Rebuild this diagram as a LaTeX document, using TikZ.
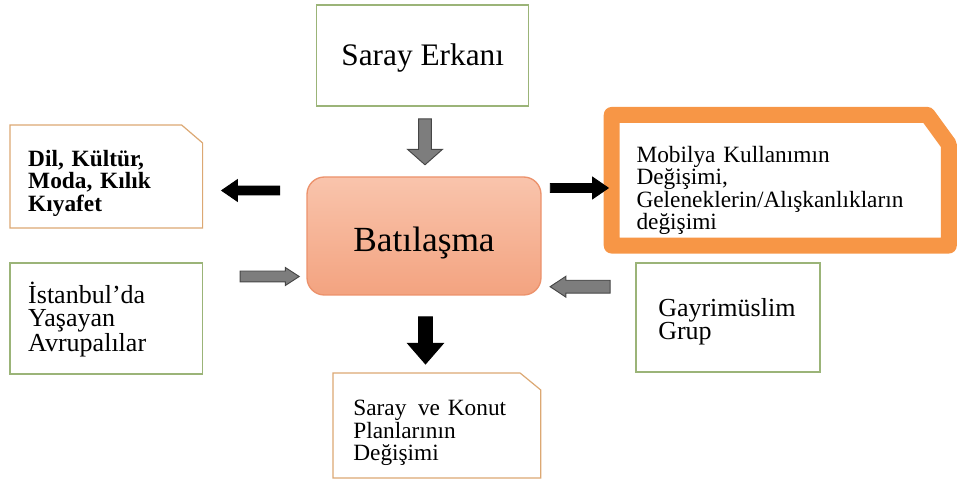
\documentclass[tikz,border=0pt]{standalone}
\usepackage{fontspec}
\setmainfont{Liberation Serif}
\usetikzlibrary{shapes.arrows,positioning}

\definecolor{boxgreen}{RGB}{155,180,120}
\definecolor{boxtan}{RGB}{220,168,115}
\definecolor{frameorange}{RGB}{247,150,70}
\definecolor{batitop}{RGB}{249,196,172}
\definecolor{batibottom}{RGB}{243,163,128}
\definecolor{batiedge}{RGB}{236,146,108}
\definecolor{arrgray}{RGB}{125,125,125}
\definecolor{arrdark}{RGB}{70,70,70}

\newcommand\fsmall{\fontsize{17.5}{16.8}\selectfont}
\newcommand\fmid{\fontsize{19.5}{17.2}\selectfont}

\tikzset{
  greenbox/.style={draw=boxgreen, line width=0.9pt, fill=white, outer sep=0pt},
  tanbox/.style={fill=white, outer sep=0pt},
  tanline/.style={draw=boxtan, line width=0.9pt},
  boxtext/.style={anchor=west, inner sep=0pt, align=left},
  blockarr/.style={single arrow, single arrow head indent=0pt, line width=0.7pt},
  grayarr/.style={blockarr, fill=arrgray, draw=arrdark},
  blackarr/.style={blockarr, fill=black, draw=black},
}

\begin{document}
\begin{tikzpicture}[x=0.75pt, y=-0.75pt]
  \useasboundingbox (0,0) rectangle (958,481);

  % boxes
  \node[greenbox, minimum width=158.8pt, minimum height=75.75pt] (erkan) at (422.7,55.5) {};
  \node[font=\fontsize{23.5}{26}\selectfont, inner sep=0pt] (erkantxt)
    at ([yshift=-2.25pt]erkan.center) {Saray Erkanı};
  \node[draw=batiedge, line width=1pt, top color=batitop, bottom color=batibottom,
        rounded corners=13pt, minimum width=175.5pt, minimum height=88.5pt] (bati) at (424,236) {};
  \node[font=\fontsize{26.5}{30}\selectfont, inner sep=0pt] (batitxt)
    at ([yshift=-5pt]bati.center) {Batılaşma};

  \node[greenbox, minimum width=144.5pt, minimum height=83.25pt] (avrupa) at (106.3,318.5) {};
  \node[boxtext, font=\fmid, text width=117.5pt] (avrupatxt)
    at ([xshift=13.5pt,yshift=-0.5pt]avrupa.west) {İstanbul’da\\Yaşayan\\Avrupalılar};
  \node[greenbox, minimum width=138pt, minimum height=81.75pt] (gayri) at (728,317.5) {};
  \node[boxtext, font=\fmid, text width=105pt] (gayritxt)
    at ([xshift=16.5pt,yshift=-3pt]gayri.west) {Gayrimüslim\\Grup};

  % boxes with a cut corner
  \node[tanbox, minimum width=144.5pt, minimum height=77.25pt] (dil) at (106.3,176.5) {};
  \draw[tanline] (dil.south west) -- (dil.north west) -- ([xshift=-15.75pt]dil.north east)
    -- ([yshift=-13.5pt]dil.north east) -- (dil.south east) -- cycle;
  \node[boxtext, font=\fsmall\bfseries, text width=117.5pt] (diltxt)
    at ([xshift=13.5pt,yshift=-5pt]dil.west) {Dil, Kültür,\\Moda, Kılık\\Kıyafet};

  \node[tanbox, minimum width=155.8pt, minimum height=78.75pt] (konut) at (436.9,425.5) {};
  \draw[tanline] (konut.south west) -- (konut.north west) -- ([xshift=-15.5pt]konut.north east)
    -- ([yshift=-12.75pt]konut.north east) -- (konut.south east) -- cycle;
  \node[boxtext, font=\fsmall, text width=125pt] (konuttxt)
    at ([xshift=15pt,yshift=-5.5pt]konut.west) {Saray\, ve Konut\\Planlarının\\Değişimi};

  \node[tanbox, minimum width=252.8pt, minimum height=98pt] (mobilya) at (780.25,180.25) {};
  \draw[draw=frameorange, line width=12pt, line join=round]
    (mobilya.south west) -- (mobilya.north west) -- ([xshift=-16pt]mobilya.north east)
    -- ([yshift=-22pt]mobilya.north east) -- (mobilya.south east) -- cycle;
  \node[boxtext, font=\fsmall, text width=216pt] (mobilyatxt)
    at ([xshift=18.4pt,yshift=-7.5pt]mobilya.west)
    {Mobilya Kullanımın\\Değişimi,\\Geleneklerin/Alışkanlıkların\\değişimi};

  % arrows
  \node[grayarr, shape border rotate=270, minimum height=34.5pt, inner xsep=4.4pt, inner ysep=0pt,
        single arrow head extend=8.25pt, single arrow tip angle=97] (erkan2bati) at (425,139) {};
  \node[blackarr, shape border rotate=180, minimum height=43.5pt, inner ysep=3pt, inner xsep=0pt,
        single arrow head extend=4.7pt, single arrow tip angle=69] (bati2dil) at (254,190.5) {};
  \node[blackarr, minimum height=43.5pt, inner ysep=3pt, inner xsep=0pt,
        single arrow head extend=4.7pt, single arrow tip angle=69] (bati2mobilya) at (576,188) {};
  \node[grayarr, minimum height=44.25pt, inner ysep=3.75pt, inner xsep=0pt,
        single arrow head extend=2.6pt, single arrow tip angle=66] (avrupa2bati) at (265.5,276.5) {};
  \node[grayarr, shape border rotate=180, minimum height=45pt, inner ysep=4.5pt, inner xsep=0pt,
        single arrow head extend=3pt, single arrow tip angle=67] (gayri2bati) at (585,286.7) {};
  \node[blackarr, shape border rotate=270, minimum height=35.25pt, inner xsep=4.75pt, inner ysep=0pt,
        single arrow head extend=8.25pt, single arrow tip angle=82] (bati2konut) at (425.5,336.5) {};
\end{tikzpicture}
\end{document}
